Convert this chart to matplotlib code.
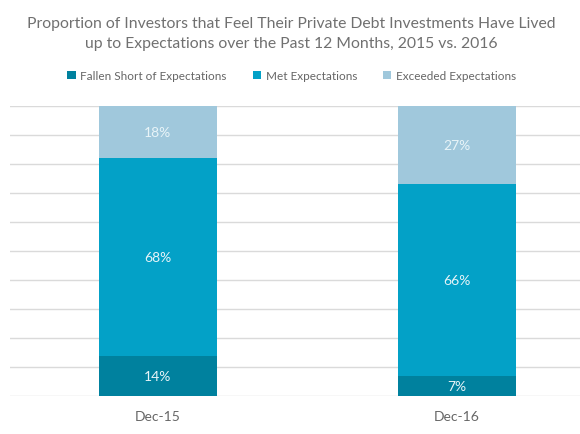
import numpy as np
import matplotlib.pyplot as plt

plt.rcParams['font.family'] = ['Lato', 'DejaVu Sans']

periods = ["Dec-15", "Dec-16"]
series_names = ["Fallen Short of Expectations", "Met Expectations", "Exceeded Expectations"]
fallen_short = [14, 7]
met = [68, 66]
exceeded = [18, 27]
colors = ["#00819E", "#03A1C7", "#A0C8DC"]

fig = plt.figure(figsize=(5.8, 4.35), dpi=100)
ax = fig.add_axes([0.017, 0.087, 0.983, 0.667])

x = np.arange(len(periods))
bottom = np.zeros(len(periods))
handles = []
for name, vals, col in zip(series_names, [fallen_short, met, exceeded], colors):
    vals = np.array(vals, dtype=float)
    h = ax.bar(x, vals, 0.395, bottom=bottom, color=col, zorder=3, label=name)
    handles.append(h)
    for xi, b, v in zip(x, bottom, vals):
        ax.text(xi, b + v / 2, "{:.0f}%".format(v), ha="center", va="center",
                color="#E8F4F8", fontsize=10, zorder=4)
    bottom += vals

ax.set_xlim(-0.495, 1.411)
ax.set_ylim(0, 100)
ax.set_yticks(np.arange(0, 101, 10))
ax.set_yticklabels([])
ax.yaxis.grid(True, color="#DADADA", linewidth=1, zorder=0)
ax.tick_params(axis="y", length=0)
ax.tick_params(axis="x", length=0, pad=10, labelsize=10, labelcolor="#666666")
ax.set_xticks(x)
ax.set_xticklabels(periods)
for s in ax.spines.values():
    s.set_visible(False)

fig.text(0.503, 0.962, "Proportion of Investors that Feel Their Private Debt Investments Have Lived\nup to Expectations over the Past 12 Months, 2015 vs. 2016",
         ha="center", va="top", fontsize=11.3, color="#707070", linespacing=1.55)

fig.legend(handles=handles, loc="center", bbox_to_anchor=(0.503, 0.823), ncol=3,
           frameon=False, fontsize=8.5, handlelength=0.7, handleheight=0.7,
           handletextpad=0.4, columnspacing=2.2, labelcolor="#666666")

fig.savefig("out.png", dpi=100)
